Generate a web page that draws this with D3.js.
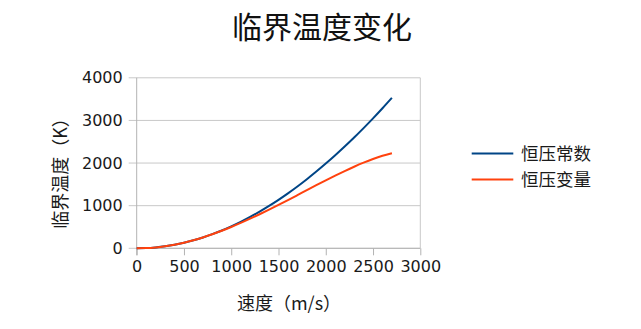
<!DOCTYPE html>
<html><head><meta charset="utf-8">
<script src="https://cdn.jsdelivr.net/npm/d3@7"></script>
<style>body{margin:0;background:#fff}svg{display:block}</style>
</head><body>
<svg id="c" width="641" height="329"></svg>
<script>
const title = "临界温度变化";
const xLabel = "速度（m/s）";
const yLabel = "临界温度（K）";
const seriesNames = ["恒压常数", "恒压变量"];
const speeds = [0,100,200,300,400,500,600,700,800,900,1000,1100,1200,1300,1400,1500,1600,1700,1800,1900,2000,2100,2200,2300,2400,2500,2600,2700];
const constCp = [0,5,21,47,84,131,188,255,332,418,515,621,736,861,995,1138,1290,1451,1621,1800,1987,2183,2387,2599,2820,3048,3285,3530];
const varCp   = [0,5,21,48,85,132,189,255,329,411,500,595,695,799,906,1017,1131,1247,1364,1480,1594,1705,1812,1914,2009,2095,2170,2232];
const xTicks = [0,500,1000,1500,2000,2500,3000];
const yTicks = [0,1000,2000,3000,4000];
const colors = ["#004586", "#ff420e"];

const svg = d3.select("#c");
const x = d3.scaleLinear().domain([0,3000]).range([136.7,420.3]);
const y = d3.scaleLinear().domain([0,4000]).range([248.3,77.8]);
const numFont = "DejaVu Sans, sans-serif";
const cjkFont = "'Noto Sans CJK SC', sans-serif";

// gridlines
svg.append("g").selectAll("line").data(yTicks).join("line")
  .attr("x1", x(0)-8).attr("x2", x(3000))
  .attr("y1", d=>y(d)).attr("y2", d=>y(d))
  .attr("stroke", "#c8c8c8").attr("stroke-width", 1);
// right border
svg.append("line").attr("x1", x(3000)).attr("x2", x(3000)).attr("y1", y(4000)).attr("y2", y(0))
  .attr("stroke", "#c8c8c8");

// axes
const xAxis = d3.axisBottom(x).tickValues(xTicks).tickSize(7).tickPadding(5).tickFormat(d3.format("d"));
const gx = svg.append("g").attr("transform", `translate(0,${y(0)})`).call(xAxis);
gx.select(".domain").attr("stroke", "#b3b3b3").attr("d", `M${x(0)},0H${x(3000)}`);
gx.selectAll(".tick line").attr("stroke", "#b3b3b3");
gx.selectAll("text").attr("font-family", numFont).attr("font-size", 16).attr("fill", "#1a1a1a");

const yAxis = d3.axisLeft(y).tickValues(yTicks).tickSize(0).tickPadding(14).tickFormat(d3.format("d"));
const gy = svg.append("g").attr("transform", `translate(${x(0)},0)`).call(yAxis);
gy.select(".domain").attr("stroke", "#b3b3b3").attr("d", `M0,${y(4000)}V${y(0)+7}`);
gy.selectAll("text").attr("font-family", numFont).attr("font-size", 16).attr("fill", "#1a1a1a");

// lines
const series = [constCp, varCp];
const line = d3.line().x((d,i)=>x(speeds[i])).y(d=>y(d)).curve(d3.curveMonotoneX);
series.forEach((s,k)=>{
  svg.append("path").datum(s).attr("d", line).attr("fill","none")
    .attr("stroke", colors[k]).attr("stroke-width", 2);
});

// title
svg.append("text").attr("x", 322).attr("y", 38).attr("text-anchor","middle")
  .attr("font-family", cjkFont).attr("font-size", 30).attr("fill","#111").text(title);
// axis labels
svg.append("text").attr("x", 289).attr("y", 310).attr("text-anchor","middle")
  .attr("font-family", cjkFont).attr("font-size", 18).attr("fill","#1a1a1a").text(xLabel);
svg.append("text").attr("transform","translate(67,169) rotate(-90)").attr("text-anchor","middle")
  .attr("font-family", cjkFont).attr("font-size", 18).attr("fill","#1a1a1a").text(yLabel);

// legend
const lg = svg.append("g");
seriesNames.forEach((n,k)=>{
  const yy = 153.5 + k*26;
  lg.append("line").attr("x1",471.7).attr("x2",513.3).attr("y1",yy).attr("y2",yy)
    .attr("stroke",colors[k]).attr("stroke-width",2);
  lg.append("text").attr("x",521).attr("y",yy+6.5).attr("font-family",cjkFont)
    .attr("font-size",17.5).attr("fill","#1a1a1a").text(n);
});
</script>
</body></html>
